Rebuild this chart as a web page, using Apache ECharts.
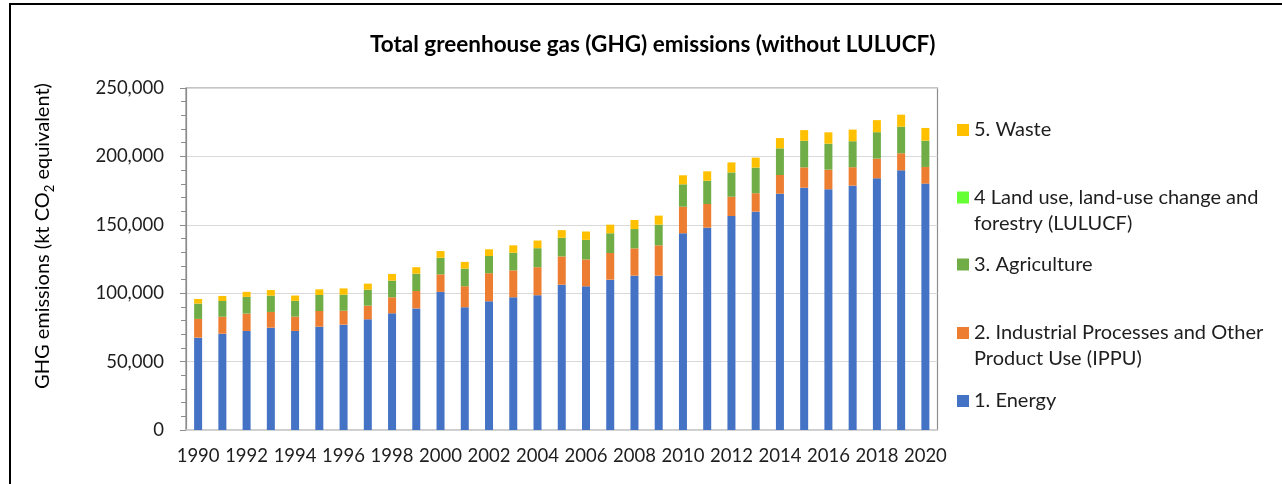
<!DOCTYPE html>
<html>
<head>
<meta charset="utf-8">
<script src="https://cdn.jsdelivr.net/npm/echarts@6/dist/echarts.min.js"></script>
<style>
  html, body { margin: 0; padding: 0; background: #fff; }
  #chart { width: 1282px; height: 484px; }
</style>
</head>
<body>
<div id="chart"></div>
<script>
// Inventory years
const years = ['1990','1991','1992','1993','1994','1995','1996','1997','1998','1999',
  '2000','2001','2002','2003','2004','2005','2006','2007','2008','2009',
  '2010','2011','2012','2013','2014','2015','2016','2017','2018','2019','2020'];

// Emissions by sector, kt CO2 equivalent
const energy = [67500, 70400, 72400, 74800, 72400, 75500, 77000, 80900, 85300, 88900,
  101000, 89700, 94100, 97000, 98500, 106200, 105000, 109900, 112800, 112800,
  143800, 147900, 156400, 159600, 172700, 177100, 176000, 178600, 184000, 189800, 180100];
const ippu = [13700, 12400, 12700, 11500, 10500, 11500, 10200, 10000, 11700, 12700,
  12800, 15400, 20500, 19700, 20500, 20700, 19700, 19500, 20000, 22200,
  19400, 17300, 14100, 13500, 13700, 14900, 14300, 13500, 14400, 12500, 12200];
const agriculture = [11200, 11500, 12200, 11900, 11500, 11700, 11700, 11700, 12200, 12700,
  12100, 12900, 12600, 12900, 13900, 13600, 14300, 14400, 14100, 15100,
  16400, 17000, 17800, 18700, 19500, 19400, 19000, 19000, 19300, 19400, 19200];
const lulucf = []; // excluded from this total
const waste = [3400, 3700, 3700, 4100, 3900, 4100, 4600, 4400, 4900, 4700,
  4900, 4900, 4900, 5400, 5600, 5600, 6100, 6300, 6600, 6600,
  6600, 6900, 7300, 7300, 7500, 7800, 8300, 8500, 8800, 8800, 9300];

// Y axis ticks
const yTicks = { min: 0, max: 250000, step: 50000 };

const FONT = 'Lato, "Open Sans", sans-serif';
const TXT = '#1e1e1e';

const names = {
  waste: '5. Waste',
  lulucf: '4 Land use, land-use change and forestry (LULUCF)',
  agri: '3. Agriculture',
  ippu: '2. Industrial Processes and Other Product Use (IPPU)',
  energy: '1. Energy'
};
// wrapped entries: a blank leading line keeps the swatch level with the first line
const legendText = {};
legendText[names.lulucf] = ' \n4 Land use, land-use change and\nforestry (LULUCF)';
legendText[names.ippu] = ' \n2. Industrial Processes and Other\nProduct Use (IPPU)';

const colors = {
  energy: '#4472C4', ippu: '#ED7D31', agri: '#70AD47', lulucf: '#66FF33', waste: '#FFC000'
};

const LH = 26;
// one legend block per entry so each can sit at its own row
function legendEntry(name, centerY, twoLines) {
  return {
    data: [name],
    orient: 'vertical',
    left: 957,
    top: twoLines ? centerY - LH * 1.5 : centerY - LH / 2,
    padding: 0,
    itemWidth: 12,
    itemHeight: 12,
    icon: 'rect',
    selectedMode: false,
    formatter: n => legendText[n] || n,
    textStyle: { fontFamily: FONT, fontSize: 20, color: TXT, lineHeight: LH }
  };
}

function bar(name, data, color) {
  return {
    name, type: 'bar', stack: 'total', data,
    barWidth: 8,
    itemStyle: { color },
    emphasis: { disabled: true }
  };
}

const chart = echarts.init(document.getElementById('chart'), null, { renderer: 'canvas' });
chart.setOption({
  animation: false,
  backgroundColor: '#fff',
  title: {
    text: 'Total greenhouse gas (GHG) emissions (without LULUCF)',
    left: 370,
    top: 33,
    padding: 0,
    textStyle: { fontFamily: FONT, fontSize: 22.5, fontWeight: 'bold', color: '#000' }
  },
  legend: [
    legendEntry(names.waste, 130, false),
    legendEntry(names.lulucf, 197.5, true),
    legendEntry(names.agri, 264.5, false),
    legendEntry(names.ippu, 333, true),
    legendEntry(names.energy, 401, false)
  ],
  grid: {
    left: 186, right: 344.5, top: 88, bottom: 54,
    show: true, borderColor: '#8c8c8c', borderWidth: 1.2, backgroundColor: 'transparent'
  },
  xAxis: {
    type: 'category',
    data: years,
    axisLine: { lineStyle: { color: '#d0d0d0', width: 1.5 } },
    axisTick: { show: false },
    axisLabel: { interval: 1, fontFamily: FONT, fontSize: 18.5, color: TXT, margin: 17 }
  },
  yAxis: {
    type: 'value',
    min: yTicks.min, max: yTicks.max, interval: yTicks.step,
    axisLine: { show: true, lineStyle: { color: '#8c8c8c', width: 1.2 } },
    axisTick: { show: true, length: 6, lineStyle: { color: '#8c8c8c' } },
    minorTick: { show: true, splitNumber: 5, length: 5, lineStyle: { color: '#8c8c8c' } },
    splitLine: { show: true, lineStyle: { color: '#d9d9d9', width: 1.2 } },
    axisLabel: {
      fontFamily: FONT, fontSize: 18.5, color: TXT, margin: 22,
      formatter: v => v.toLocaleString('en-US')
    }
  },
  series: [
    bar(names.energy, energy, colors.energy),
    bar(names.ippu, ippu, colors.ippu),
    bar(names.agri, agriculture, colors.agri),
    bar(names.lulucf, lulucf, colors.lulucf),
    bar(names.waste, waste, colors.waste)
  ],
  graphic: [
    {
      type: 'rect',
      shape: { x: 10, y: 4, width: 1400, height: 600 },
      style: { fill: 'none', stroke: '#000', lineWidth: 2 },
      silent: true
    },
    {
      type: 'text',
      x: 43, y: 236,
      rotation: Math.PI / 2,
      style: {
        text: '{a|GHG emissions (kt CO}{s|2}{a| equivalent)}',
        align: 'center', verticalAlign: 'middle',
        rich: {
          a: { fontFamily: FONT, fontSize: 20, color: TXT, lineHeight: 26, verticalAlign: 'middle' },
          s: { fontFamily: FONT, fontSize: 13, color: TXT, lineHeight: 13, verticalAlign: 'bottom' }
        }
      },
      silent: true
    }
  ]
});
</script>
</body>
</html>
